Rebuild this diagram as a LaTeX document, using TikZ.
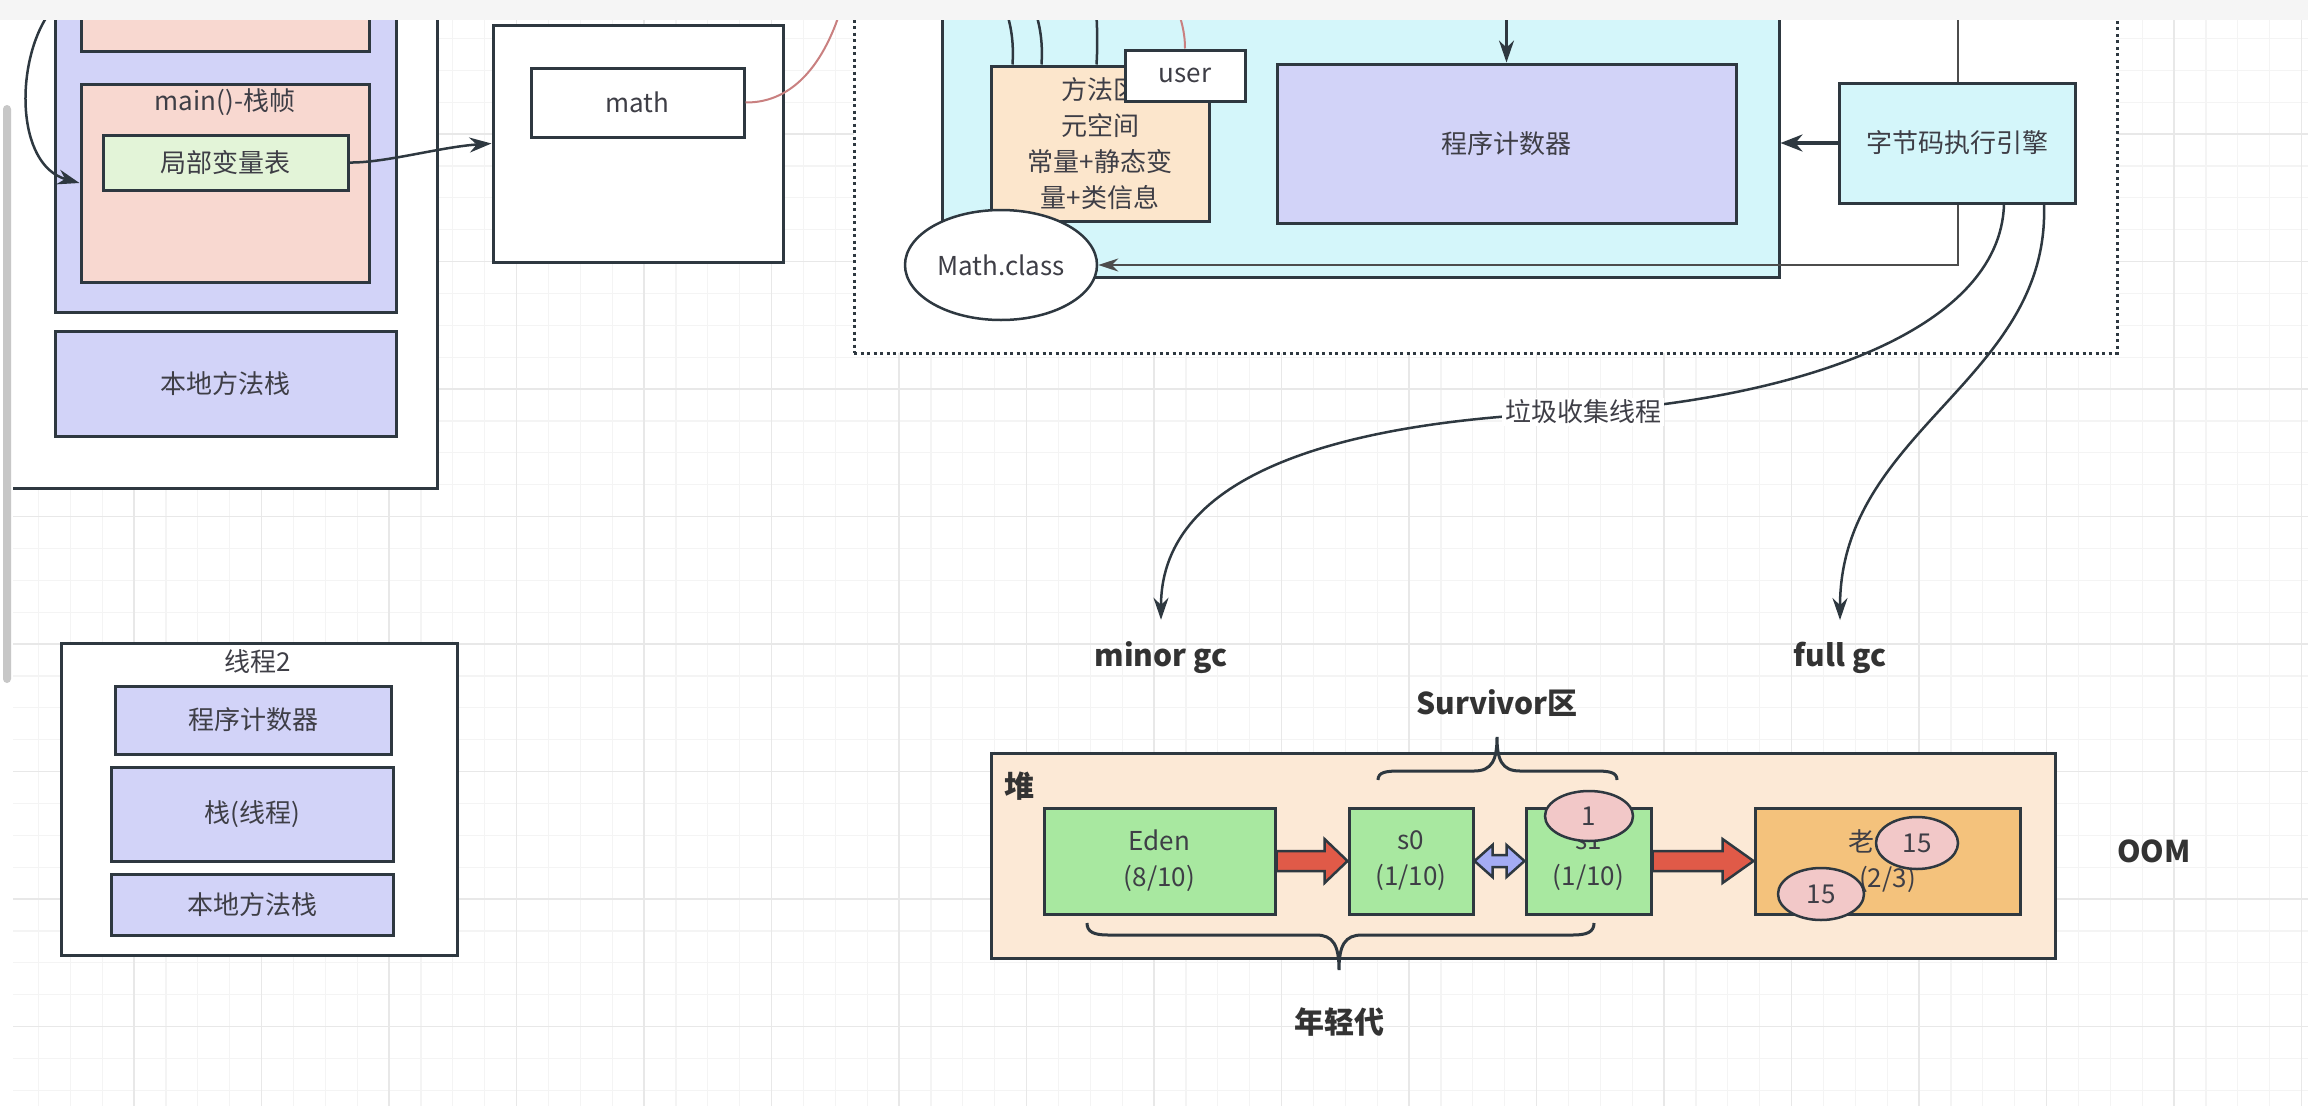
\documentclass[tikz,border=0pt]{standalone}
\usepackage{fontspec}
\setmainfont{Noto Sans CJK SC}
\usetikzlibrary{arrows.meta,shapes.geometric,calc}
\definecolor{bd}{HTML}{2E3840}
\definecolor{tx}{HTML}{3E3E46}
\definecolor{lav}{HTML}{D2D3F8}
\definecolor{pk}{HTML}{F8D8D0}
\definecolor{lgreen}{HTML}{E3F4D8}
\definecolor{cyanbox}{HTML}{D4F6FA}
\definecolor{beige}{HTML}{FCE6CC}
\definecolor{heapc}{HTML}{FCE9D6}
\definecolor{edenc}{HTML}{A8E8A0}
\definecolor{oldc}{HTML}{F4C27C}
\definecolor{redarr}{HTML}{E05A48}
\definecolor{bluearr}{HTML}{A4ACF4}
\definecolor{circc}{HTML}{F2C8C8}
\definecolor{redline}{HTML}{C98080}
\definecolor{gridmin}{HTML}{F4F4F4}
\definecolor{gridmaj}{HTML}{E8E8E8}
\newcommand\ftn{\fontsize{26pt}{36pt}\selectfont}
\newcommand\ftb{\fontsize{30pt}{36pt}\selectfont\bfseries}
\tikzset{
  bx/.style={draw=bd, line width=3pt, inner sep=0pt, font=\ftn, text=tx, align=center},
  txt/.style={inner sep=0pt, font=\ftn, text=tx},
  btxt/.style={inner sep=0pt, font=\ftb, text=black!80},
  conn/.style={draw=bd, line width=2.5pt, -{Stealth[length=22pt,width=15pt]}},
  plainconn/.style={draw=bd, line width=2.5pt},
  redconn/.style={draw=redline, line width=2pt},
  blockred/.style={draw=bd, line width=2.5pt, fill=redarr, line join=miter},
  blockblue/.style={draw=bd, line width=2.5pt, fill=bluearr, line join=miter},
  circ/.style={ellipse, draw=bd, line width=2.5pt, fill=circc, inner sep=0pt, font=\ftn, text=tx},
  bracepath/.style={draw=bd, line width=3pt},
  minorgrid/.style={draw=gridmin, line width=1.2pt},
  majorgrid/.style={draw=gridmaj, line width=1.6pt},
}
\begin{document}
\begin{tikzpicture}[x=1pt,y=-1pt]
\useasboundingbox (0,0) rectangle (2308,1106);
\clip (0,0) rectangle (2308,1106);
\fill[white] (0,0) rectangle (2308,1106);
% grid
\foreach \i in {0,...,72} {\draw[minorgrid] ({6.6+31.875*\i},0) -- ({6.6+31.875*\i},1106);}
\foreach \j in {0,...,34} {\draw[minorgrid] (0,{6.6+31.875*\j}) -- (2308,{6.6+31.875*\j});}
\foreach \i in {0,...,18} {\draw[majorgrid] ({6.6+127.5*\i},0) -- ({6.6+127.5*\i},1106);}
\foreach \j in {0,...,8} {\draw[majorgrid] (0,{6.6+127.5*\j}) -- (2308,{6.6+127.5*\j});}

% ---------------- thread 1 ----------------
\node[bx, fill=white, minimum width=432pt, minimum height=498pt] (t1outer) at (221,239) {};
\node[bx, fill=lav, minimum width=341pt, minimum height=322pt] (t1stack) at (225.5,151) {};
\node[bx, fill=pk, minimum width=288pt, minimum height=61pt] (prevframe) at (225,20.5) {};
\node[bx, fill=pk, minimum width=288pt, minimum height=198pt] (mainframe) at (225,183) {};
\node[txt] (mainlbl) at (225,102) {main()-栈帧};
\node[bx, fill=lgreen, minimum width=245pt, minimum height=55pt] (lvt) at (225.5,162.5) {局部变量表};
\node[bx, fill=lav, minimum width=341pt, minimum height=105pt] (native1) at (225.5,383.5) {本地方法栈};

% ---------------- heap object ----------------
\node[bx, fill=white, minimum width=290pt, minimum height=237pt] (heapobj) at (638,143.5) {};
\node[bx, fill=white, minimum width=213pt, minimum height=69pt] (mathbox) at (637.5,102.5) {math};

% ---------------- runtime area ----------------
\node[draw=bd, line width=3pt, dash pattern=on 3pt off 3.5pt, fill=white, inner sep=0pt,
      minimum width=1263pt, minimum height=363pt] (rt) at (1485.5,171.5) {};
\node[bx, fill=cyanbox, minimum width=837pt, minimum height=287pt] (cyan) at (1360.5,133.5) {};
\node[bx, fill=beige, minimum width=218pt, minimum height=155pt] (ma) at (1100,143.5)
  {方法区\\元空间\\常量+静态变\\量+类信息};
\node[bx, fill=white, minimum width=120pt, minimum height=51pt] (user) at (1185,75.5) {user};
\node[bx, fill=lav, minimum width=459pt, minimum height=159pt] (pc) at (1506.5,143.5) {程序计数器};
\node[ellipse, draw=bd, line width=2.5pt, fill=white, inner sep=0pt, font=\ftn, text=tx,
      minimum width=192pt, minimum height=110pt] (mathclass) at (1001,265) {Math.class};

% connectors in the runtime area
\coordinate (vtop) at (1958,-5);
\draw[draw=black!70, line width=2.5pt, -{Stealth[length=20pt,width=13pt]}] (vtop) |- (mathclass.east);
\node[bx, fill=cyanbox, minimum width=236pt, minimum height=120pt] (engine) at (1957,143) {字节码执行引擎};
\draw[draw=bd, line width=3.5pt, -{Stealth[length=22pt,width=17pt]}] (engine.west) -- (engine.west -| cyan.east);
\coordinate (pctop) at (1506.5,-5);
\draw[conn] (pctop) -- (pc.north);
\coordinate (ma1) at (1000,-5);
\coordinate (ma2) at (1029,-5);
\coordinate (ma3) at (1095,-5);
\coordinate (usertop) at (1172,-5);
\draw[plainconn] (ma1) .. controls (1011,20) and (1014,40) .. ($(ma.north west)+(23,0)$);
\draw[plainconn] (ma2) .. controls (1040,20) and (1043,40) .. ($(ma.north west)+(52,0)$);
\draw[plainconn] (ma3) .. controls (1097,20) and (1098,40) .. ($(ma.north west)+(107,0)$);
\draw[redconn] (usertop) .. controls (1180,15) and (1185,30) .. (user.north);
\coordinate (mathtail) at (845,-5);
\draw[redconn] (mathbox.east) .. controls (795,103) and (828,60) .. (mathtail);

% thread 1 connectors
\coordinate (lctop) at (50,12);
\draw[conn] (lctop) .. controls (15,60) and (15,165) .. (mainframe.west);
\draw[conn] (lvt.east) .. controls (385,163) and (440,147) .. (heapobj.west);

% ---------------- GC ----------------
\node[btxt] (minor) at (1161,658) {minor gc};
\node[btxt] (full) at (1840,658) {full gc};
\coordinate (gcmid) at (1583,412);
\draw[draw=bd, line width=2.5pt, -{Stealth[length=22pt,width=15pt]}]
  (engine.south -| 2004,0) .. controls (2000,330) and (1800,398) .. (gcmid)
  .. controls (1350,420) and (1161,470) .. ($(minor.north)+(0,-22)$);
\node[txt, fill=white, inner xsep=3pt, inner ysep=2pt] (gclbl) at (gcmid) {垃圾收集线程};
\draw[draw=bd, line width=2.5pt, -{Stealth[length=22pt,width=15pt]}]
  (engine.south -| 2044,0) .. controls (2050,380) and (1840,430) .. ($(full.north)+(0,-22)$);

% ---------------- heap ----------------
\node[bx, fill=heapc, minimum width=1064pt, minimum height=205pt] (heap) at (1523,855.5) {};
\node[btxt] (heaplbl) at (1019,786) {堆};
\node[bx, fill=edenc, minimum width=231pt, minimum height=106pt] (eden) at (1159.5,861) {Eden\\(8/10)};
\node[bx, fill=edenc, minimum width=124pt, minimum height=106pt] (s0) at (1411,861) {s0\\(1/10)};
\node[bx, fill=edenc, minimum width=125pt, minimum height=106pt] (s1) at (1588.5,861) {s1\\(1/10)};
\node[bx, fill=oldc, minimum width=265pt, minimum height=106pt] (old) at (1887.5,861) {老年代\\(2/3)};

\draw[blockred] ($(eden.east)+(0,-10)$) -- ($(s0.west)+(-23,-10)$) -- ($(s0.west)+(-23,-22)$)
  -- (s0.west) -- ($(s0.west)+(-23,22)$) -- ($(s0.west)+(-23,10)$) -- ($(eden.east)+(0,10)$) -- cycle;
\draw[blockred] ($(s1.east)+(0,-10)$) -- ($(old.west)+(-31,-10)$) -- ($(old.west)+(-31,-22)$)
  -- (old.west) -- ($(old.west)+(-31,22)$) -- ($(old.west)+(-31,10)$) -- ($(s1.east)+(0,10)$) -- cycle;
\draw[blockblue] (s0.east) -- ($(s0.east)+(18,-16)$) -- ($(s0.east)+(18,-6)$) -- ($(s1.west)+(-18,-6)$)
  -- ($(s1.west)+(-18,-16)$) -- (s1.west) -- ($(s1.west)+(-18,16)$) -- ($(s1.west)+(-18,6)$)
  -- ($(s0.east)+(18,6)$) -- ($(s0.east)+(18,16)$) -- cycle;

\node[circ, minimum width=88pt, minimum height=50pt] (c1) at (1589,816) {1};
\node[circ, minimum width=82pt, minimum height=52pt] (c15a) at (1917,843) {15};
\node[circ, minimum width=86pt, minimum height=52pt] (c15b) at (1821,894) {15};

% braces
\draw[bracepath] (1378,780) .. controls (1378,772) and (1386,771) .. (1400,771) -- (1474,771)
  .. controls (1492,771) and (1497,760) .. (1497,737)
  .. controls (1497,760) and (1502,771) .. (1520,771) -- (1595,771)
  .. controls (1609,771) and (1617,772) .. (1617,780);
\node[btxt] (survlbl) at (1497,703) {Survivor区};
\draw[bracepath] (1087,923) .. controls (1087,932) and (1094,935) .. (1108,935) -- (1316,935)
  .. controls (1333,935) and (1339,945) .. (1339,970)
  .. controls (1339,945) and (1345,935) .. (1362,935) -- (1573,935)
  .. controls (1587,935) and (1594,932) .. (1594,923);
\node[btxt] (younglbl) at (1339,1022) {年轻代};
\node[btxt] (oom) at (2154,851) {OOM};

% ---------------- thread 2 ----------------
\node[bx, fill=white, minimum width=396pt, minimum height=312pt] (t2outer) at (259,799) {};
\node[txt] (t2lbl) at (258,662) {线程2};
\node[bx, fill=lav, minimum width=276pt, minimum height=68pt] (t2pc) at (253,720) {程序计数器};
\node[bx, fill=lav, minimum width=282pt, minimum height=94pt] (t2stack) at (252,814) {栈(线程)};
\node[bx, fill=lav, minimum width=282pt, minimum height=61pt] (t2native) at (252,904.5) {本地方法栈};

% ---------------- window chrome ----------------
\fill[white] (0,20) rectangle (13,1106);
\fill[black!22, rounded corners=4pt] (3,105) rectangle (11,683);
\fill[black!4] (0,0) rectangle (2308,20);
\end{tikzpicture}
\end{document}
